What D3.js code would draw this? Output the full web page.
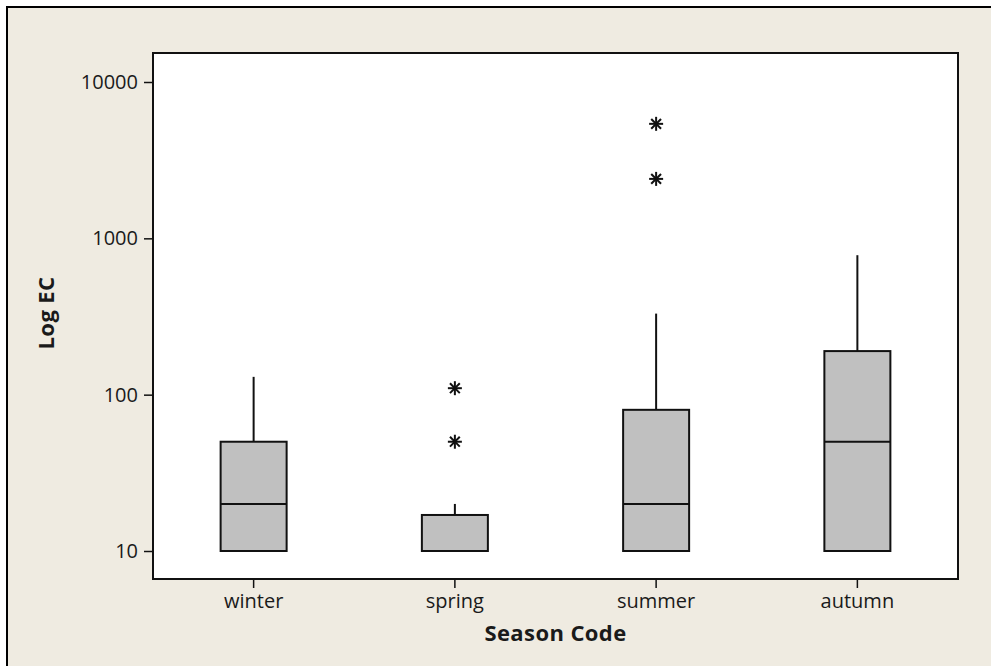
<!DOCTYPE html>
<html>
<head>
<meta charset="utf-8">
<script src="https://cdn.jsdelivr.net/npm/d3@7"></script>
<style>
  html, body { margin: 0; padding: 0; background: #ffffff; }
  svg { display: block; }
  text { font-family: "Open Sans", "DejaVu Sans", sans-serif; fill: #1a1a1a; }
</style>
</head>
<body>
<svg id="chart" width="991" height="666"></svg>
<script>
// Season summaries of EC (box-and-whisker statistics)
const seasons   = ["winter", "spring", "summer", "autumn"];
const q1        = [10, 10, 10, 10];
const medians   = [20, 10, 20, 50];
const q3        = [50, 17, 80, 190];
const whiskLow  = [10, 10, 10, 10];
const whiskHigh = [130, 20, 330, 780];
const outliers  = [[], [50, 110], [2400, 5400], []];
const yTicks    = [10, 100, 1000, 10000];

const plot = { left: 153, top: 53, right: 958, bottom: 579 };

const svg = d3.select("#chart");

// outer panel
svg.append("rect")
  .attr("x", 7).attr("y", 7).attr("width", 1000).attr("height", 700)
  .attr("fill", "#efebe1").attr("stroke", "#000").attr("stroke-width", 2);

// plot area
svg.append("rect")
  .attr("x", plot.left).attr("y", plot.top)
  .attr("width", plot.right - plot.left).attr("height", plot.bottom - plot.top)
  .attr("fill", "#ffffff");

const x = d3.scaleBand().domain(seasons).range([plot.left, plot.right]);
const y = d3.scaleLog().domain([10, 10000]).range([551, 82]);

const boxW = 66;
const rows = seasons.map((s, i) => ({
  s, q1: q1[i], med: medians[i], q3: q3[i], lo: whiskLow[i], hi: whiskHigh[i], out: outliers[i]
}));

const g = svg.append("g");
rows.forEach(d => {
  const cx = x(d.s) + x.bandwidth() / 2;
  // whiskers
  g.append("line").attr("x1", cx).attr("x2", cx)
    .attr("y1", y(d.q3)).attr("y2", y(d.hi))
    .attr("stroke", "#111").attr("stroke-width", 2);
  g.append("line").attr("x1", cx).attr("x2", cx)
    .attr("y1", y(d.q1)).attr("y2", y(d.lo))
    .attr("stroke", "#111").attr("stroke-width", 2);
  // box
  g.append("rect")
    .attr("x", cx - boxW / 2).attr("width", boxW)
    .attr("y", y(d.q3)).attr("height", y(d.q1) - y(d.q3))
    .attr("fill", "#c0c0c0").attr("stroke", "#111").attr("stroke-width", 2);
  // median
  g.append("line").attr("x1", cx - boxW / 2).attr("x2", cx + boxW / 2)
    .attr("y1", y(d.med)).attr("y2", y(d.med))
    .attr("stroke", "#111").attr("stroke-width", 2);
  // outliers as asterisks
  d.out.forEach(v => {
    const oy = y(v), r = 7;
    const star = g.append("g").attr("transform", `translate(${cx},${oy})`)
      .attr("stroke", "#111").attr("stroke-width", 2);
    star.append("line").attr("x1", -r).attr("x2", r).attr("y1", 0).attr("y2", 0);
    star.append("line").attr("x1", -r * 0.7).attr("x2", r * 0.7).attr("y1", -r * 0.7).attr("y2", r * 0.7);
    star.append("line").attr("x1", -r * 0.7).attr("x2", r * 0.7).attr("y1", r * 0.7).attr("y2", -r * 0.7);
    star.append("line").attr("x1", 0).attr("x2", 0).attr("y1", -r).attr("y2", r);
  });
});

// plot frame
svg.append("rect")
  .attr("x", plot.left).attr("y", plot.top)
  .attr("width", plot.right - plot.left).attr("height", plot.bottom - plot.top)
  .attr("fill", "none").attr("stroke", "#111").attr("stroke-width", 2);

// y axis
const yAxis = svg.append("g").attr("transform", `translate(${plot.left},0)`)
  .call(d3.axisLeft(y).tickValues(yTicks).tickFormat(d3.format("d")).tickSize(9).tickPadding(6));
yAxis.select(".domain").remove();
yAxis.selectAll("line").attr("stroke", "#111").attr("stroke-width", 1.5);
yAxis.selectAll("text").attr("font-size", 20).attr("fill", "#1a1a1a");

// x axis
const xAxis = svg.append("g").attr("transform", `translate(0,${plot.bottom})`)
  .call(d3.axisBottom(x).tickSize(9).tickPadding(6));
xAxis.select(".domain").remove();
xAxis.selectAll("line").attr("stroke", "#111").attr("stroke-width", 1.5);
xAxis.selectAll("text").attr("font-size", 20).attr("fill", "#1a1a1a");

// axis titles
svg.append("text")
  .attr("x", (plot.left + plot.right) / 2).attr("y", 641)
  .attr("text-anchor", "middle").attr("font-size", 22).attr("font-weight", "bold")
  .attr("letter-spacing", 0.4)
  .text("Season Code");
svg.append("text")
  .attr("transform", `translate(54,${(plot.top + plot.bottom) / 2 - 3}) rotate(-90)`)
  .attr("text-anchor", "middle").attr("font-size", 22).attr("font-weight", "bold")
  .attr("letter-spacing", 0.4)
  .text("Log EC");
</script>
</body>
</html>
